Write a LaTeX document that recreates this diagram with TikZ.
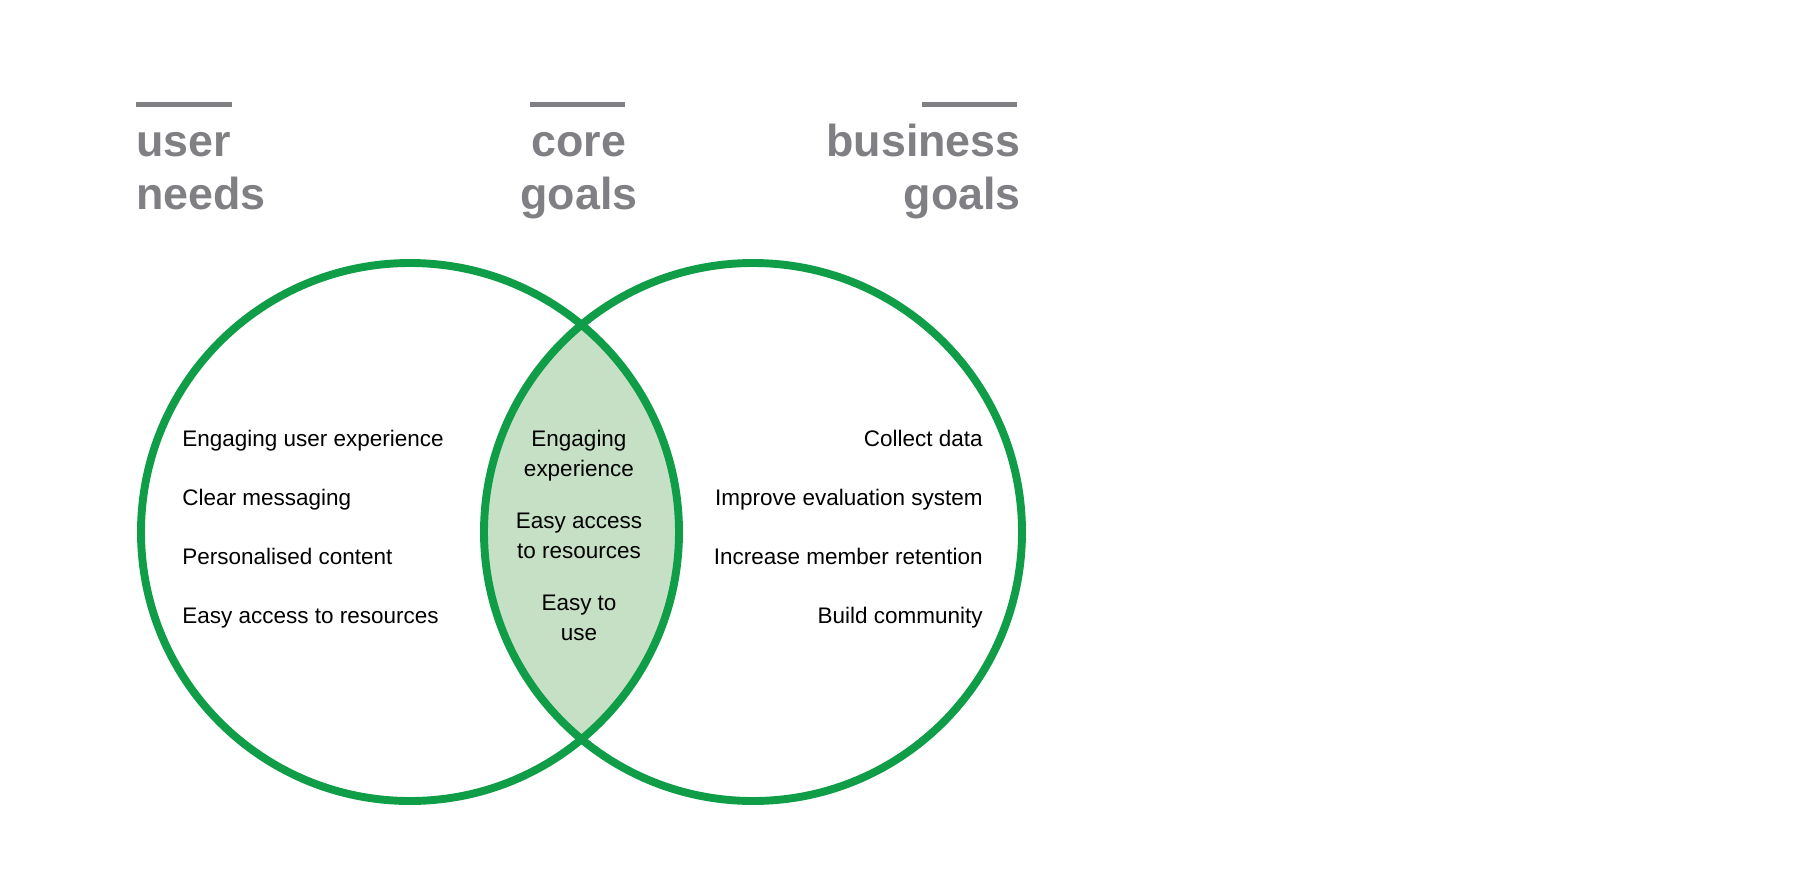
\documentclass[tikz,border=0pt]{standalone}
\usepackage{fontspec}
\setmainfont{Liberation Sans}
\usepackage{tikz}
\usetikzlibrary{positioning}

\definecolor{vennGreen}{HTML}{0F9D48}
\definecolor{lensFill}{HTML}{C6E0C6}
\definecolor{headGrey}{HTML}{808084}

\begin{document}
\begin{tikzpicture}[
    x=0.02cm, y=-0.02cm,
    heading/.style={inner sep=0pt, text=headGrey, font=\fontsize{25.5}{29.6}\selectfont\bfseries},
    headbar/.style={draw=headGrey, line width=3.2pt},
    item/.style={inner sep=0pt, font=\fontsize{12.8}{16.8}\selectfont},
    ring/.style={draw=vennGreen, line width=4.5pt}
]
\useasboundingbox (0,0) rectangle (1816,869);

% headings (base = last line)
\node[heading, anchor=base west, align=left] (user) at (136,209) {user\\needs};
\node[heading, anchor=base, align=center] (core) at (579,209) {core\\goals};
\node[heading, anchor=base east, align=right] (business) at (1021,209) {business\\goals};

\draw[headbar] (136,104.5) -- (232,104.5);
\draw[headbar] (530,104.5) -- (625,104.5);
\draw[headbar] (922,104.5) -- (1017,104.5);

% circles
\coordinate (userC) at (410,532);
\coordinate (busC) at (753,532);
\begin{scope}
  \clip (userC) circle[radius=269];
  \fill[lensFill] (busC) circle[radius=269];
\end{scope}
\draw[ring] (userC) circle[radius=269];
\draw[ring] (busC) circle[radius=269];

% user needs
\node[item, anchor=base west] (u1) at (182,446) {Engaging user experience};
\node[item, anchor=base west] (u2) at (182,505) {Clear messaging};
\node[item, anchor=base west] (u3) at (182,564) {Personalised content};
\node[item, anchor=base west] (u4) at (182,623) {Easy access to resources};

% core goals
\node[item, anchor=base, align=center] (c1) at (579,476) {Engaging\\experience};
\node[item, anchor=base, align=center] (c2) at (579,558) {Easy access\\to resources};
\node[item, anchor=base, align=center] (c3) at (579,640) {Easy to\\use};

% business goals
\node[item, anchor=base east] (b1) at (983,446) {Collect data};
\node[item, anchor=base east] (b2) at (983,505) {Improve evaluation system};
\node[item, anchor=base east] (b3) at (983,564) {Increase member retention};
\node[item, anchor=base east] (b4) at (983,623) {Build community};

\end{tikzpicture}
\end{document}
